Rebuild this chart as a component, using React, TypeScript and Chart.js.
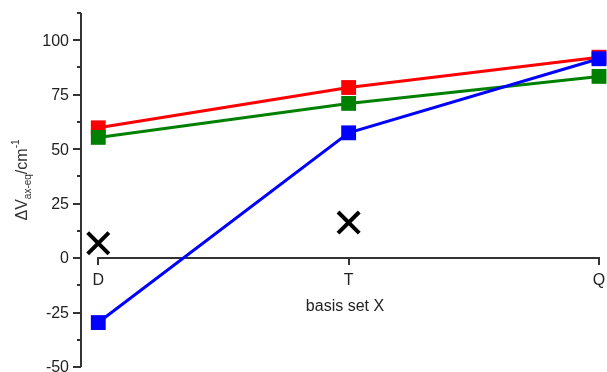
import React, { useEffect, useRef } from "react";
import { Chart, registerables } from "chart.js";

Chart.register(...registerables);

const categories = ["D", "T", "Q"];
const redValues = [59.8, 78.3, 92.2];
const greenValues = [55.4, 71.0, 83.4];
const blueValues = [-29.6, 57.5, 91.5];
const crossValues = [6.8, 16.3];
const yMajorTicks = [-50, -25, 0, 25, 50, 75, 100];
const yMinorTicks = [-37.5, -12.5, 12.5, 37.5, 62.5, 87.5, 112.5];
const xTitle = "basis set X";
const Y_MIN = -50;
const Y_MAX = 112.5;
const X_MIN = -0.069;
const X_MAX = 2;

const FONT = '"Liberation Sans", Arial, sans-serif';
const AXIS_COLOR = "#333333";
const TEXT_COLOR = "#222222";

const toPoints = (vals: number[]) => vals.map((v, i) => ({ x: i, y: v }));

const axesPlugin = {
  id: "customAxes",
  beforeDatasetsDraw(chart: any) {
    const { ctx, scales } = chart;
    const x = scales.x;
    const y = scales.y;
    const left = chart.chartArea.left;
    ctx.save();
    ctx.strokeStyle = AXIS_COLOR;
    ctx.lineWidth = 2;
    ctx.lineCap = "butt";
    // y axis line
    ctx.beginPath();
    ctx.moveTo(left, y.getPixelForValue(Y_MAX));
    ctx.lineTo(left, y.getPixelForValue(Y_MIN));
    ctx.stroke();
    // major ticks
    ctx.beginPath();
    yMajorTicks.forEach((t) => {
      const py = Math.round(y.getPixelForValue(t));
      ctx.moveTo(left - 8, py);
      ctx.lineTo(left, py);
    });
    yMinorTicks.forEach((t) => {
      const py = Math.round(y.getPixelForValue(t));
      ctx.moveTo(left - 4, py);
      ctx.lineTo(left, py);
    });
    ctx.stroke();
    // y labels
    ctx.fillStyle = TEXT_COLOR;
    ctx.font = `16px ${FONT}`;
    ctx.textAlign = "right";
    ctx.textBaseline = "middle";
    yMajorTicks.forEach((t) => {
      ctx.fillText(String(t), left - 12, y.getPixelForValue(t) + 1);
    });
    // x axis at y = 0
    const y0 = Math.round(y.getPixelForValue(0));
    const xs = x.getPixelForValue(0);
    const xe = x.getPixelForValue(categories.length - 1);
    ctx.beginPath();
    ctx.moveTo(xs - 1, y0);
    ctx.lineTo(xe + 1, y0);
    categories.forEach((_, i) => {
      const px = Math.round(x.getPixelForValue(i));
      ctx.moveTo(px, y0);
      ctx.lineTo(px, y0 + 7);
    });
    ctx.stroke();
    ctx.textAlign = "center";
    ctx.textBaseline = "middle";
    categories.forEach((c, i) => {
      ctx.fillText(c, x.getPixelForValue(i), y0 + 23);
    });
    ctx.fillText(xTitle, 345, y0 + 49);

    // y title (rotated, rich text)
    const parts = [
      { t: "\u0394V", font: `16px ${FONT}`, dy: 0 },
      { t: "ax-eq", font: `10px ${FONT}`, dy: 4 },
      { t: "/cm", font: `16px ${FONT}`, dy: 0 },
      { t: "-1", font: `10px ${FONT}`, dy: -8 },
    ];
    ctx.save();
    ctx.fillStyle = "#333333";
    ctx.translate(27, 180);
    ctx.rotate(-Math.PI / 2);
    ctx.textAlign = "left";
    ctx.textBaseline = "alphabetic";
    let total = 0;
    parts.forEach((p) => {
      ctx.font = p.font;
      total += ctx.measureText(p.t).width;
    });
    let cx = -total / 2;
    parts.forEach((p) => {
      ctx.font = p.font;
      ctx.fillText(p.t, cx, p.dy);
      cx += ctx.measureText(p.t).width;
    });
    ctx.restore();
    ctx.restore();
  },
};

export default function App() {
  const ref = useRef<HTMLCanvasElement | null>(null);
  useEffect(() => {
    document.body.style.margin = "0";
    const canvas = ref.current;
    if (!canvas) return;
    const squareRadius = 10.5;
    const chart = new Chart(canvas, {
      type: "line",
      data: {
        datasets: [
          {
            label: "blue",
            data: toPoints(blueValues),
            borderColor: "#0000ff",
            backgroundColor: "#0000ff",
            borderWidth: 3,
            pointStyle: "rect",
            pointRadius: squareRadius,
            pointHoverRadius: squareRadius,
            pointBorderWidth: 0,
            clip: false,
          },
          {
            label: "green",
            data: toPoints(greenValues),
            borderColor: "#008000",
            backgroundColor: "#008000",
            borderWidth: 3,
            pointStyle: "rect",
            pointRadius: squareRadius,
            pointHoverRadius: squareRadius,
            pointBorderWidth: 0,
            clip: false,
          },
          {
            label: "red",
            data: toPoints(redValues),
            borderColor: "#ff0000",
            backgroundColor: "#ff0000",
            borderWidth: 3,
            pointStyle: "rect",
            pointRadius: squareRadius,
            pointHoverRadius: squareRadius,
            pointBorderWidth: 0,
            clip: false,
          },
          {
            label: "cross",
            data: toPoints(crossValues),
            showLine: false,
            borderColor: "#000000",
            backgroundColor: "#000000",
            pointStyle: "crossRot",
            pointRadius: 15,
            pointHoverRadius: 15,
            pointBorderWidth: 4,
            pointBorderColor: "#000000",
            clip: false,
          },
        ] as any,
      },
      options: {
        animation: false,
        responsive: false,
        devicePixelRatio: 1,
        events: [],
        layout: { autoPadding: false, padding: { left: 81, right: 8, top: 13, bottom: 5 } },
        plugins: { legend: { display: false }, tooltip: { enabled: false } },
        scales: {
          x: { type: "linear", min: X_MIN, max: X_MAX, display: false },
          y: { type: "linear", min: Y_MIN, max: Y_MAX, display: false },
        },
      },
      plugins: [axesPlugin],
    });
    return () => chart.destroy();
  }, []);
  return (
    <canvas
      ref={ref}
      width={607}
      height={372}
      style={{ display: "block", width: 607, height: 372 }}
    />
  );
}
